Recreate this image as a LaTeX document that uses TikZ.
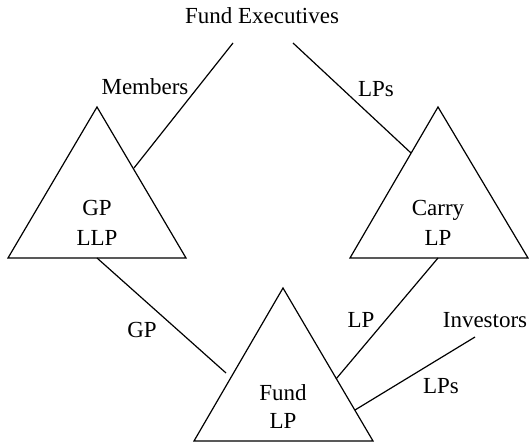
\documentclass[tikz,border=0pt]{standalone}
\usepackage{fontspec}
\setmainfont{Liberation Serif}
\newfontfamily\timesfont{Liberation Serif}
\tikzset{
    lbl/.style = {anchor=base, inner sep=0pt, font=\timesfont\fontsize{23}{27}\selectfont},
    entity/.style = {draw, line width=1.2pt, line join=miter}
}
\begin{document}
\begin{tikzpicture}[x=1pt,y=-1pt,line width=1.2pt]
            \useasboundingbox (0,0) rectangle (529,443);
            % entities
            \draw[entity] (97,107) coordinate (gpTop) -- (186,258) coordinate (gpR) -- (8,258) coordinate (gpL) -- cycle;
            \draw[entity] (438,107) coordinate (cyTop) -- (528,258) coordinate (cyR) -- (350,258) coordinate (cyL) -- cycle;
            \draw[entity] (283,288) coordinate (fdTop) -- (373,441) coordinate (fdR) -- (194,441) coordinate (fdL) -- cycle;
            \node[lbl] (gp) at (97,216) {GP};
            \node[lbl] (llp) at (97,245) {LLP};
            \node[lbl] (carry) at (438,216) {Carry};
            \node[lbl] (cylp) at (438,245) {LP};
            \node[lbl] (fund) at (283,400) {Fund};
            \node[lbl] (fdlp) at (283,428) {LP};
            \node[lbl] (exec) at (262,24) {Fund Executives};
            \node[lbl] (inv) at (485,327) {Investors};
            % link ends
            \coordinate (execL) at (233,43);
            \coordinate (execR) at (293,43);
            \coordinate (gpHit) at (134,168);
            \coordinate (cyHit) at (411,153);
            \coordinate (gpBase) at (97,258);
            \coordinate (cyBase) at (438,258);
            \coordinate (fdHitL) at (226,373);
            \coordinate (fdHitR) at (336,379);
            \coordinate (fdHitI) at (355,410);
            \coordinate (invEnd) at (475,337);
            % links
            \draw (execL) -- (gpHit);
            \draw (execR) -- (cyHit);
            \draw (gpBase) -- (fdHitL);
            \draw (cyBase) -- (fdHitR);
            \draw (invEnd) -- (fdHitI);
            \node[lbl] (members) at (145,95) {Members};
            \node[lbl] (lpsTop) at (376,97) {LPs};
            \node[lbl] (gpLink) at (142,337) {GP};
            \node[lbl] (lpLink) at (361,327) {LP};
            \node[lbl] (lpsLow) at (441,393) {LPs};
        \end{tikzpicture}
\end{document}
